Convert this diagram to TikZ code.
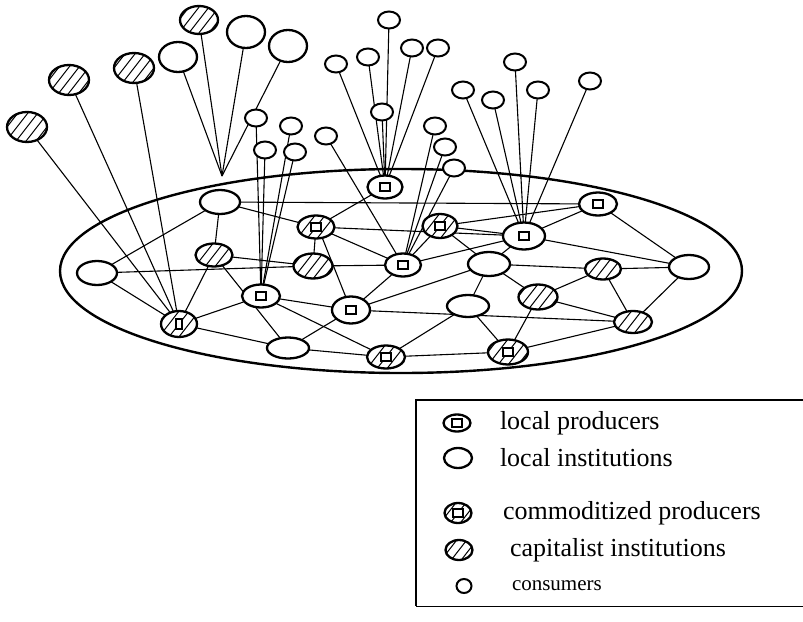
\documentclass[tikz,border=0pt]{standalone}
\usepackage{fontspec}
\setmainfont{Liberation Serif}
\usetikzlibrary{shapes.geometric,backgrounds}
% hatching and producer mark, drawn inside a node's outline
\newcommand\hatchfill{%
  \foreach \k in {-30,-20,...,30}{%
    \draw[line width=1pt] ([xshift=\k pt]path picture bounding box.center) ++(-14pt,-18pt) -- ++(28pt,36pt);}}
\newcommand\boxmark{%
  \draw[line width=1.5pt,fill=white] ([xshift=-5pt,yshift=-4pt]path picture bounding box.center) rectangle ++(10pt,8pt);}
\newcommand\boxmarkv{%
  \draw[line width=1.5pt,fill=white] ([xshift=-3pt,yshift=-5pt]path picture bounding box.center) rectangle ++(6pt,10pt);}
\begin{document}
\begin{tikzpicture}[x=1pt,y=-1pt,
  every node/.style={inner sep=0pt,outer sep=0pt},
  sz/.style 2 args={minimum width=#1pt,minimum height=#2pt},
  unit/.style={ellipse,draw,line width=2.3pt,fill=white},
  li/.style={unit},
  ci/.style={unit,path picture={\hatchfill}},
  lp/.style={unit,path picture={\boxmark}},
  cp/.style={unit,path picture={\hatchfill\boxmark}},
  cpv/.style={unit,path picture={\hatchfill\boxmarkv}},
  cons/.style={ellipse,draw,line width=2pt,fill=white,sz={22}{17}},
  edge/.style={line width=1.1pt},
  rim/.style={line width=2.4pt},
  lgtext/.style={anchor=west,font=\fontsize{26}{30}\selectfont},
]
\useasboundingbox (0,0) rectangle (803,621);

% ---- units inside the local economy ----
\node[li,sz={40}{24}] (L1) at (220,202) {};
\node[li,sz={40}{24}] (L2) at (97,273) {};
\node[ci,sz={37}{23}] (C1) at (214,255) {};
\node[lp,sz={35}{23}] (P1) at (385,187) {};
\node[cp,sz={37}{23}] (CP1) at (316,227) {};
\node[ci,sz={39}{25}] (C2) at (313,266) {};
\node[lp,sz={38}{23}] (P2) at (261,296) {};
\node[cpv,sz={36}{26}] (CP2) at (179,324) {};
\node[lp,sz={38}{27}] (P3) at (351,310) {};
\node[li,sz={42}{21}] (L3) at (288,348) {};
\node[cp,sz={38}{23}] (CP3) at (386,357) {};
\node[lp,sz={36}{23}] (P4) at (403,265) {};
\node[lp,sz={38}{23}] (P5) at (598,204) {};
\node[cp,sz={35}{24}] (CP4) at (440,226) {};
\node[lp,sz={42}{27}] (P6) at (524,236) {};
\node[li,sz={42}{24}] (L4) at (489,264) {};
\node[ci,sz={36}{21}] (C3) at (603,269) {};
\node[li,sz={40}{24}] (L5) at (689,267) {};
\node[ci,sz={39}{25}] (C4) at (538,297) {};
\node[li,sz={42}{22}] (L6) at (468,306) {};
\node[ci,sz={38}{22}] (C5) at (633,322) {};
\node[cp,sz={40}{25}] (CP5) at (508,352) {};

% ---- outside institutions ----
\node[ci,sz={40}{30}] (H1) at (27,127) {};
\node[ci,sz={40}{30}] (H2) at (69,80) {};
\node[ci,sz={40}{30}] (H3) at (134,68) {};
\node[li,sz={38}{30}] (W1) at (178,57) {};
\node[ci,sz={38}{28}] (H4) at (199,20) {};
\node[li,sz={38}{32}] (W2) at (246,32) {};
\node[li,sz={38}{32}] (W3) at (288,46) {};
\coordinate (hubA) at (222,176);

% ---- consumers ----
\node[cons] (k1) at (256,118) {};
\node[cons] (k2) at (291,126) {};
\node[cons] (k3) at (265,150) {};
\node[cons] (k4) at (295,152) {};
\node[cons] (k5) at (326,136) {};
\node[cons] (k6) at (389,20) {};
\node[cons] (k7) at (336,64) {};
\node[cons] (k8) at (368,57) {};
\node[cons] (k9) at (412,48) {};
\node[cons] (k10) at (438,48) {};
\node[cons] (k11) at (382,112) {};
\node[cons] (k12) at (435,126) {};
\node[cons] (k13) at (445,147) {};
\node[cons] (k14) at (454,168) {};
\node[cons] (k15) at (463,90) {};
\node[cons] (k16) at (493,100) {};
\node[cons] (k17) at (515,62) {};
\node[cons] (k18) at (538,90) {};
\node[cons] (k19) at (590,81) {};

\begin{scope}[on background layer]
  \draw[rim] (401,271) ellipse [x radius=341, y radius=102];
  \foreach \a/\b in {L1/CP1, L1/C1, L1/L2, L1/P5, L2/CP2, L2/C2, C1/CP2, C1/L3,
      C1/C2, CP2/P2, CP2/L3, P1/CP1, CP1/P6, CP1/P4, CP1/C2, C2/P4, P4/CP4,
      P4/P3, P4/P6, P3/P2, P2/CP3, P3/L3, P3/L4, P3/C5, L3/CP3, CP3/L6,
      CP3/CP5, L6/CP5, L6/L4, L4/C4, L4/C3, CP4/L4, CP4/P6, CP4/P5, P6/L4,
      P6/P5, P6/L5, P5/L5, C3/L5, C3/C4, C3/C5, L5/C5, C4/C5, C4/CP5, CP5/C5}
    \draw[edge] (\a) -- (\b);
  \draw[edge] (CP1.300) -- (P3);
  \foreach \a/\b in {H1/CP2, H2/CP2, H3/CP2, W1/hubA, H4/hubA, W2/hubA, W3/hubA,
      k1/P2, k2/P2, k3/P2, k4/P2, k5/P4, k6/P1, k7/P1, k8/P1, k9/P1, k10/P1,
      k11/P1, k12/P4, k13/P4, k14/P4, k15/P6, k16/P6, k17/P6, k18/P6, k19/P6}
    \draw[edge] (\a) -- (\b);
\end{scope}

% ---- legend ----
\draw[line width=1.5pt] (803,400) -- (416,400) -- (416,606);
\draw[line width=1pt] (416,606) -- (803,606);
\node[lp,sz={27}{17}] (g1) at (457,423) {};
\node[li,sz={28}{20}] (g2) at (458,458) {};
\node[cp,sz={27}{20}] (g3) at (458,513) {};
\node[ci,sz={27}{20}] (g4) at (459,550) {};
\node[cons,sz={15}{14}] (g5) at (464,586) {};
\node[lgtext] (t1) at (500,423) {local producers};
\node[lgtext] (t2) at (500,458) {local institutions};
\node[lgtext] (t3) at (503,513) {commoditized producers};
\node[lgtext] (t4) at (510,550) {capitalist institutions};
\node[lgtext,font=\fontsize{21}{25}\selectfont] (t5) at (512,586) {consumers};
\end{tikzpicture}
\end{document}
